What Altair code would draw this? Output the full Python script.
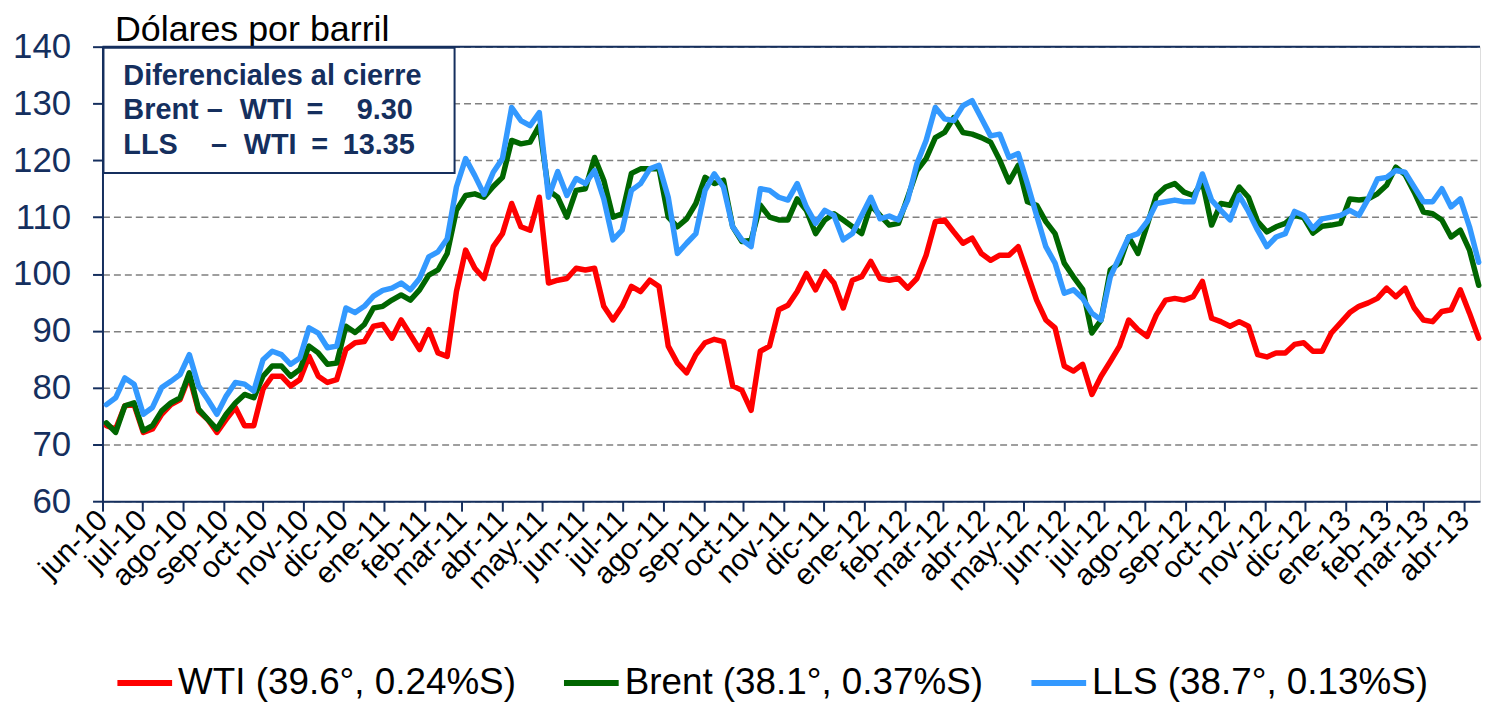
import altair as alt
import pandas as pd

# ---------------- data (weekly readings, USD/bbl) ----------------
fechas = pd.date_range("2010-06-04", periods=150, freq="7D").strftime("%Y-%m-%d").tolist()

wti = [
    73.3, 72.7, 76.8, 77.0, 72.1, 72.7, 75.3, 77.0, 77.9, 82.0, 75.9, 74.4, 72.1, 74.4, 76.5, 73.3, 73.3, 79.7, 82.0, 82.0, 80.3, 81.4, 85.5, 82.0, 80.9,
    81.4, 86.7, 87.9, 88.1, 90.8, 91.1, 88.7, 91.9, 89.3, 86.7, 90.2, 86.1, 85.5, 96.9, 104.2, 101.0, 99.2, 104.8, 107.1, 112.4, 108.3, 107.7, 113.5, 98.4, 98.9,
    99.2, 101.0, 100.7, 101.0, 94.3, 91.9, 94.3, 97.8, 96.9, 98.9, 97.8, 87.3, 84.3, 82.6, 85.8, 87.9, 88.5, 88.1, 80.3, 79.5, 76.0, 86.4, 87.3, 93.7, 94.5,
    96.9, 100.1, 97.2, 100.4, 98.4, 94.0, 98.9, 99.5, 102.2, 99.2, 98.9, 99.2, 97.5, 99.2, 103.3, 109.2, 109.5, 107.4, 105.4, 106.3, 103.6, 102.4, 103.3, 103.3, 104.8,
    100.1, 95.4, 91.9, 90.5, 83.8, 82.9, 84.1, 78.8, 82.0, 84.6, 87.3, 91.9, 90.2, 89.0, 92.8, 95.4, 95.7, 95.4, 96.0, 98.7, 92.2, 91.6, 90.8, 91.6, 90.8,
    85.8, 85.4, 86.1, 86.1, 87.6, 87.9, 86.4, 86.4, 89.6, 91.4, 93.2, 94.3, 94.9, 95.7, 97.5, 96.0, 97.5, 94.0, 91.9, 91.6, 93.4, 93.7, 97.2, 93.1, 88.7,
]

brent = [
    73.8, 72.1, 76.8, 77.3, 72.4, 73.3, 75.9, 77.3, 78.2, 82.6, 76.2, 74.4, 72.7, 75.3, 77.3, 78.8, 78.2, 82.0, 83.8, 83.8, 82.0, 83.2, 87.3, 86.1, 84.1,
    84.3, 90.8, 89.7, 91.1, 94.0, 94.3, 95.4, 96.3, 95.4, 97.2, 99.8, 100.7, 103.6, 111.2, 113.8, 114.1, 113.5, 115.4, 117.0, 123.5, 122.9, 123.2, 126.1, 114.7, 113.5,
    110.0, 114.7, 115.0, 120.5, 116.5, 110.0, 110.6, 117.7, 118.5, 118.5, 118.5, 110.0, 108.3, 109.7, 112.4, 117.0, 115.9, 116.5, 108.3, 105.7, 105.9, 112.1, 110.0, 109.5, 109.5,
    113.2, 111.2, 107.1, 109.5, 110.6, 109.5, 108.3, 107.1, 112.1, 110.3, 108.6, 108.9, 113.5, 118.2, 120.3, 124.0, 124.9, 127.5, 124.9, 124.6, 124.0, 123.2, 120.0, 116.2, 119.1,
    112.7, 112.1, 109.2, 107.1, 101.9, 99.5, 97.3, 89.6, 91.9, 100.7, 101.9, 106.5, 103.6, 108.6, 113.8, 115.3, 115.9, 114.4, 113.8, 116.2, 108.6, 112.4, 112.1, 115.3, 113.5,
    109.2, 107.4, 108.3, 108.9, 110.3, 109.9, 107.2, 108.4, 108.6, 108.9, 113.2, 113.0, 113.2, 114.1, 115.6, 118.8, 117.5, 114.4, 110.9, 110.6, 109.5, 106.5, 107.7, 104.2, 98.0,
]

lls = [
    77.0, 78.2, 81.7, 80.6, 75.3, 76.5, 80.0, 81.1, 82.3, 85.8, 80.3, 77.9, 75.3, 78.5, 80.9, 80.6, 79.4, 84.9, 86.4, 85.8, 84.1, 85.2, 90.5, 89.6, 87.0,
    87.3, 94.0, 93.2, 94.3, 96.1, 97.1, 97.5, 98.4, 97.2, 99.2, 103.0, 103.9, 106.2, 115.3, 120.3, 117.3, 114.0, 117.9, 120.3, 129.3, 127.0, 126.1, 128.4, 113.5, 118.0,
    113.8, 116.8, 115.9, 118.2, 113.2, 106.0, 107.7, 114.7, 115.9, 118.5, 119.1, 113.5, 103.6, 105.4, 107.1, 114.7, 117.6, 115.3, 108.3, 106.0, 104.8, 115.0, 114.7, 113.5, 113.0,
    115.9, 111.8, 108.9, 111.2, 110.3, 106.0, 107.1, 110.3, 113.5, 109.7, 110.2, 109.5, 113.0, 119.4, 123.5, 129.3, 127.3, 127.0, 129.6, 130.5, 127.4, 124.3, 124.6, 120.5, 121.2,
    115.9, 110.3, 104.8, 101.9, 96.6, 97.2, 95.7, 93.1, 91.9, 99.5, 103.0, 106.5, 107.1, 109.2, 112.4, 112.7, 113.0, 112.7, 112.7, 117.6, 113.0, 111.2, 109.5, 113.8, 111.0,
    107.7, 104.8, 106.5, 107.1, 111.0, 110.3, 108.0, 109.7, 110.0, 110.3, 111.2, 110.3, 113.2, 116.7, 117.0, 118.2, 117.9, 115.3, 112.7, 112.7, 115.0, 111.8, 113.2, 108.3, 102.05,
]

series_names = ["WTI (39.6°, 0.24%S)", "Brent (38.1°, 0.37%S)", "LLS (38.7°, 0.13%S)"]
series_colors = ["#FF0000", "#006600", "#3399FF"]
month_abbr = ["ene", "feb", "mar", "abr", "may", "jun", "jul", "ago", "sep", "oct", "nov", "dic"]
y_ticks = [60, 70, 80, 90, 100, 110, 120, 130, 140]
x_tick_dates = pd.date_range("2010-06-01", "2013-04-01", freq="MS")
x_domain = ["2010-06-01", "2013-04-13"]

# ---------------- build table ----------------
rows = []
for name, vals in zip(series_names, [wti, brent, lls]):
    for d, v in zip(fechas, vals):
        rows.append({"fecha": d, "precio": v, "serie": name})
df = pd.DataFrame(rows)


def ms(d):
    return int(pd.Timestamp(d, tz="UTC").timestamp() * 1000)


NAVY = "#152F5E"
FONT = "Liberation Sans"

months_js = "[" + ",".join("'%s'" % m for m in month_abbr) + "]"

x_axis = alt.Axis(
    values=[ms(d) for d in x_tick_dates],
    labelExpr=months_js + "[utcmonth(datum.value)] + '-' + utcFormat(datum.value, '%y')",
    labelAngle=315, labelAlign="right", labelBaseline="middle",
    labelFont=FONT, labelFontSize=30, labelColor="black", labelPadding=4,
    labelOverlap=False, labelFlush=False,
    tickColor=NAVY, tickSize=10, tickWidth=2,
    domainColor=NAVY, domainWidth=2, grid=False, title=None,
)

y_axis = alt.Axis(
    values=y_ticks, labelFont=FONT, labelFontSize=35, labelColor=NAVY, labelPadding=22,
    tickColor=NAVY, tickSize=10, tickWidth=2, domainColor=NAVY, domainWidth=2,
    grid=True, gridColor="#808080", gridDash=[7, 4], gridWidth=1.5,
    title="Dólares por barril", titleAngle=0, titleAlign="left", titleBaseline="alphabetic",
    titleX=12, titleY=-6, titleFont=FONT, titleFontSize=36, titleFontWeight="normal",
    titleColor="black",
)

legend = alt.Legend(
    title=None, orient="none", legendX=12, legendY=609, direction="horizontal", columns=3,
    labelFont=FONT, labelFontSize=37, labelColor="black", labelLimit=0, labelOffset=3,
    symbolType="stroke", symbolSize=3025, symbolStrokeWidth=6, columnPadding=36, padding=0,
)

base = alt.Chart(df).mark_line(strokeWidth=5.5, strokeJoin="round", strokeCap="round").encode(
    x=alt.X("fecha:T", scale=alt.Scale(type="utc", domain=[ms(d) for d in x_domain]), axis=x_axis),
    y=alt.Y("precio:Q", scale=alt.Scale(domain=[60, 140], nice=False, zero=False), axis=y_axis),
    color=alt.Color("serie:N", scale=alt.Scale(domain=series_names, range=series_colors), legend=legend),
)
lines = [base.transform_filter(alt.datum.serie == n) for n in series_names]

dummy = pd.DataFrame({"k": [0]})
top_rule = alt.Chart(dummy).mark_rule(color=NAVY, strokeWidth=2).encode(y=alt.datum(140))

box = alt.Chart(dummy).mark_rect(fill="white", stroke=NAVY, strokeWidth=2).encode(
    x=alt.value(1), x2=alt.value(354), y=alt.value(1), y2=alt.value(127)
)

d1 = round(brent[-1] - wti[-1], 2)
d2 = round(lls[-1] - wti[-1], 2)


def txt(s, x, y, align="left"):
    return alt.Chart(dummy).mark_text(
        text=s, align=align, baseline="alphabetic", font=FONT, fontSize=29,
        fontWeight="bold", color=NAVY,
    ).encode(x=alt.value(x), y=alt.value(y))


texts = [
    txt("Diferenciales al cierre", 21, 39),
    txt("Brent –", 21, 73), txt("WTI", 138, 73), txt("=", 205, 73), txt(f"{d1:.2f}", 312, 73, "right"),
    txt("LLS", 21, 108), txt("–", 109, 108), txt("WTI", 142, 108), txt("=", 210, 108), txt(f"{d2:.2f}", 314, 108, "right"),
]

chart = alt.layer(*lines, top_rule, box, *texts).properties(
    width=1385, height=457,
    autosize=alt.AutoSizeParams(type="none"),
    padding={"left": 95, "top": 37, "right": 2, "bottom": 201},
).configure_view(stroke=None).configure(background="white")

chart.save("out.html", embed_options={"renderer": "svg", "actions": False})
